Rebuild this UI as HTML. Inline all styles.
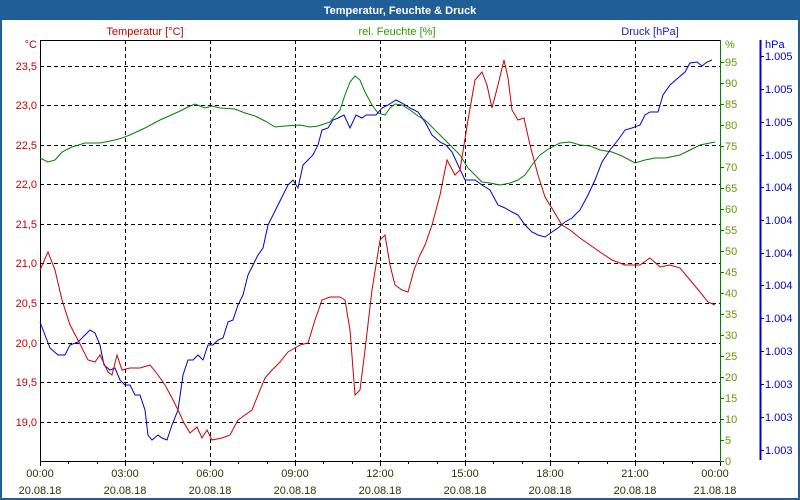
<!DOCTYPE html>
<html><head><meta charset="utf-8"><style>
html,body{margin:0;padding:0;background:#fff}
svg{display:block;font-family:"Liberation Sans",sans-serif;font-size:11px}
</style></head><body>
<svg width="800" height="500" viewBox="0 0 800 500" xmlns="http://www.w3.org/2000/svg">
<rect x="0" y="0" width="800" height="500" fill="#fff"/>
<rect x="1" y="1" width="798" height="498" fill="none" stroke="#1f5e96" stroke-width="2"/>
<rect x="0" y="0" width="800" height="20" fill="#1f5e96"/>
<text x="400" y="14" fill="#fff" font-weight="bold" text-anchor="middle">Temperatur, Feuchte &amp; Druck</text>
<text x="145" y="35" fill="#c00000" text-anchor="middle">Temperatur [°C]</text>
<text x="397" y="35" fill="#339900" text-anchor="middle">rel. Feuchte [%]</text>
<text x="650" y="35" fill="#2020c0" text-anchor="middle">Druck [hPa]</text>
<g stroke="#000" stroke-dasharray="4,3" stroke-width="1">
<line x1="125.5" y1="40" x2="125.5" y2="461"/><line x1="210.5" y1="40" x2="210.5" y2="461"/><line x1="295.5" y1="40" x2="295.5" y2="461"/><line x1="380.5" y1="40" x2="380.5" y2="461"/><line x1="465.5" y1="40" x2="465.5" y2="461"/><line x1="550.5" y1="40" x2="550.5" y2="461"/><line x1="635.5" y1="40" x2="635.5" y2="461"/>
<line x1="40" y1="66.5" x2="720" y2="66.5"/><line x1="40" y1="105.5" x2="720" y2="105.5"/><line x1="40" y1="145.5" x2="720" y2="145.5"/><line x1="40" y1="184.5" x2="720" y2="184.5"/><line x1="40" y1="224.5" x2="720" y2="224.5"/><line x1="40" y1="263.5" x2="720" y2="263.5"/><line x1="40" y1="303.5" x2="720" y2="303.5"/><line x1="40" y1="343.5" x2="720" y2="343.5"/><line x1="40" y1="382.5" x2="720" y2="382.5"/><line x1="40" y1="422.5" x2="720" y2="422.5"/>
</g>
<path d="M40.5 40.5H720.5M40.5 40V461.5H720" stroke="#000" fill="none"/>
<g stroke="#000">
<path d="M40.5 461v5M68.5 461v3M97.5 461v3M125.5 461v5M153.5 461v3M182.5 461v3M210.5 461v5M238.5 461v3M267.5 461v3M295.5 461v5M323.5 461v3M352.5 461v3M380.5 461v5M408.5 461v3M437.5 461v3M465.5 461v5M493.5 461v3M522.5 461v3M550.5 461v5M578.5 461v3M607.5 461v3M635.5 461v5M663.5 461v3M692.5 461v3M720.5 461v5"/>
</g>
<line x1="720.5" y1="40" x2="720.5" y2="462" stroke="#008000"/>
<g stroke="#008000"><path d="M720 461.5h4M720 440.5h4M720 419.5h4M720 398.5h4M720 377.5h4M720 356.5h4M720 335.5h4M720 314.5h4M720 293.5h4M720 272.5h4M720 251.5h4M720 230.5h4M720 209.5h4M720 188.5h4M720 167.5h4M720 146.5h4M720 125.5h4M720 104.5h4M720 83.5h4M720 62.5h4"/></g>
<line x1="760.5" y1="40" x2="760.5" y2="460" stroke="#0000cc" stroke-width="2"/>
<g stroke="#0000cc"><path d="M760 56.5h4M760 89.5h4M760 122.5h4M760 155.5h4M760 187.5h4M760 220.5h4M760 253.5h4M760 285.5h4M760 318.5h4M760 351.5h4M760 384.5h4M760 417.5h4M760 450.5h4"/></g>
<g fill="#cc0000" text-anchor="end">
<text x="37" y="48">°C</text>
<text x="37" y="70">23,5</text><text x="37" y="109">23,0</text><text x="37" y="149">22,5</text><text x="37" y="188">22,0</text><text x="37" y="228">21,5</text><text x="37" y="267">21,0</text><text x="37" y="307">20,5</text><text x="37" y="347">20,0</text><text x="37" y="386">19,5</text><text x="37" y="426">19,0</text>
</g>
<g fill="#669900">
<text x="725" y="48">%</text>
<text x="725" y="66">95</text><text x="725" y="87">90</text><text x="725" y="108">85</text><text x="725" y="129">80</text><text x="725" y="150">75</text><text x="725" y="171">70</text><text x="725" y="192">65</text><text x="725" y="213">60</text><text x="725" y="234">55</text><text x="725" y="255">50</text><text x="725" y="276">45</text><text x="725" y="297">40</text><text x="725" y="318">35</text><text x="725" y="339">30</text><text x="725" y="360">25</text><text x="725" y="381">20</text><text x="725" y="402">15</text><text x="725" y="423">10</text><text x="725" y="444">5</text><text x="725" y="465">0</text>
</g>
<g fill="#0000cc">
<text x="765" y="48">hPa</text>
<text x="765" y="60">1.005</text><text x="765" y="93">1.005</text><text x="765" y="126">1.005</text><text x="765" y="159">1.005</text><text x="765" y="191">1.004</text><text x="765" y="224">1.004</text><text x="765" y="257">1.004</text><text x="765" y="289">1.004</text><text x="765" y="322">1.004</text><text x="765" y="355">1.003</text><text x="765" y="388">1.003</text><text x="765" y="421">1.003</text><text x="765" y="454">1.003</text>
</g>
<g fill="#333300" text-anchor="middle">
<text x="40" y="477">00:00</text><text x="40" y="494">20.08.18</text>
<text x="125" y="477">03:00</text><text x="125" y="494">20.08.18</text>
<text x="210" y="477">06:00</text><text x="210" y="494">20.08.18</text>
<text x="295" y="477">09:00</text><text x="295" y="494">20.08.18</text>
<text x="380" y="477">12:00</text><text x="380" y="494">20.08.18</text>
<text x="465" y="477">15:00</text><text x="465" y="494">20.08.18</text>
<text x="550" y="477">18:00</text><text x="550" y="494">20.08.18</text>
<text x="635" y="477">21:00</text><text x="635" y="494">20.08.18</text>
<text x="715" y="477">00:00</text><text x="715" y="494">21.08.18</text>
</g>
<polyline fill="none" stroke="#008000" points="40,158 48,162 55,160 62,152 72,147 85,143 100,143 115,140 122,138 130,135 145,128 160,120 178,112 188,107 195,104 200,106 205,108 212,106 220,108 235,109 245,113 255,116 265,121 275,127 285,126 300,125 310,127 318,126 330,122 340,110 345,95 350,82 355,76 360,80 365,92 372,105 378,113 385,115 390,108 395,104 402,105 410,110 418,116 425,120 430,125 440,135 450,145 460,155 468,168 475,175 482,182 490,183 500,185 510,183 518,180 525,175 532,165 540,155 550,148 560,143 570,142 580,145 590,146 600,150 612,152 622,156 635,163 645,160 655,158 665,158 680,155 690,150 700,145 710,143 715,142"/>
<polyline fill="none" stroke="#0000cc" points="40,322 45,335 50,348 58,355 65,355 70,345 78,342 85,335 90,330 95,333 100,345 104,365 110,370 115,368 120,380 125,385 130,385 135,395 140,395 145,410 148,435 152,440 158,435 162,438 167,440 172,425 178,410 183,375 188,360 193,360 198,355 203,360 208,345 213,345 218,340 223,338 228,322 233,320 238,305 243,295 248,275 253,265 258,255 263,248 268,225 273,215 278,205 283,195 288,185 293,180 298,188 303,165 308,160 313,155 318,145 322,130 328,128 333,120 338,118 344,115 350,128 356,115 362,118 366,115 376,115 382,108 388,105 396,100 402,103 410,108 418,112 425,122 432,135 440,142 446,145 452,152 458,165 465,180 470,180 475,180 482,185 490,190 498,205 505,208 512,212 518,215 525,225 532,232 538,235 545,237 552,232 558,228 565,222 572,218 580,210 588,195 595,180 602,162 610,150 618,140 625,130 632,128 640,125 645,115 650,112 658,112 663,95 670,85 678,78 685,72 690,63 697,62 702,66 707,62 712,60"/>
<polyline fill="none" stroke="#cc0000" points="40,270 48,252 55,270 62,300 70,325 78,340 88,360 95,362 100,355 108,372 112,375 117,355 122,370 130,368 140,368 150,365 158,375 165,385 172,398 178,410 184,423 190,433 197,427 202,438 207,430 212,440 222,438 230,435 238,420 245,415 252,410 258,395 265,378 272,370 280,362 288,352 295,348 300,345 308,343 315,320 322,300 330,297 340,297 345,300 350,330 355,395 360,390 365,350 372,290 380,240 385,235 390,265 395,285 402,290 408,292 414,270 420,255 425,245 432,225 440,195 447,160 455,175 460,170 468,120 475,80 482,72 487,85 492,108 498,85 504,60 508,78 512,110 518,120 524,118 530,145 538,175 545,197 553,210 562,225 570,230 580,238 590,245 600,252 612,260 625,265 640,265 650,258 660,267 670,265 680,268 690,280 700,292 708,302 715,305"/>
</svg>
</body></html>
